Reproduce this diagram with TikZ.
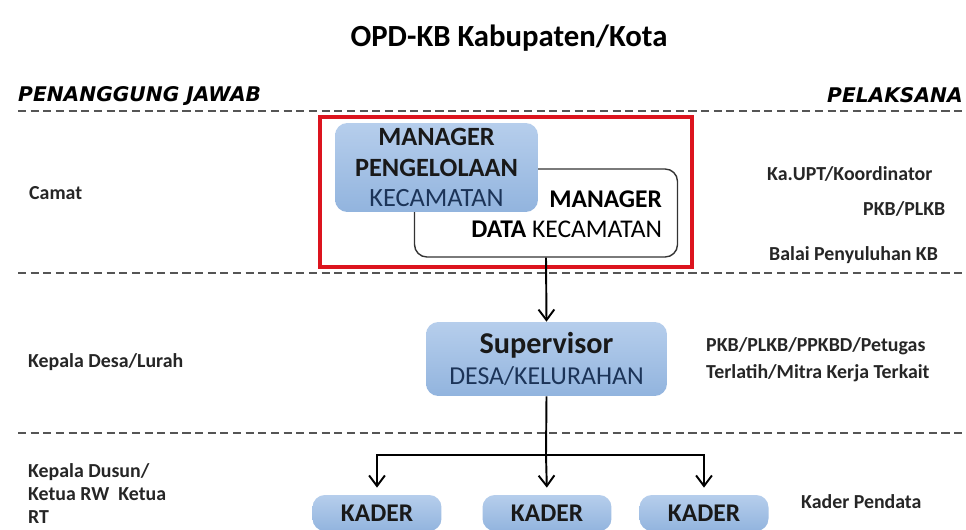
\documentclass[tikz,border=0pt]{standalone}
\usepackage{fontspec}
\setmainfont{Carlito}
\newfontfamily\headfont{DejaVu Sans}
\usepackage{xcolor}
\usetikzlibrary{positioning,arrows.meta}
\definecolor{boxtop}{RGB}{182,206,236}
\definecolor{boxbot}{RGB}{146,180,222}
\definecolor{navytext}{RGB}{28,52,88}
\definecolor{framered}{RGB}{220,20,30}
\definecolor{sepgray}{RGB}{85,85,85}

\begin{document}
\begin{tikzpicture}[x=0.02cm,y=-0.02cm,
  sepline/.style={line width=1.6pt, draw=sepgray, dash pattern=on 4.6pt off 2.6pt},
  bluebox/.style={rounded corners=7pt, top color=boxtop, bottom color=boxbot, draw=none,
                  align=center, inner ysep=0pt, text=black!90},
  whitebox/.style={rounded corners=7pt, draw=black!80, line width=0.8pt, fill=white},
  side/.style={anchor=west, font=\bfseries\fontsize{11.3}{15}\selectfont, text=black!85},
  head/.style={anchor=west, font=\headfont\bfseries\itshape\fontsize{11.5}{14}\selectfont},
  arr/.style={line width=1.1pt, -{Straight Barb[length=6pt,width=9pt]}}
]
\clip (0,0) rectangle (966,530);
\fill[white] (0,0) rectangle (966,530);

% title and column heads
\node[font=\bfseries\fontsize{17.5}{20}\selectfont] (title) at (509,38) {OPD-KB Kabupaten/Kota};
\node[head] (pj) at (12,96) {PENANGGUNG JAWAB};
\node[head] (pl) at (821,95) {PELAKSANA};

% level separators
\draw[sepline] (18,111) -- (966,111);
\draw[sepline] (18,273) -- (966,273);
\draw[sepline] (18,433) -- (966,433);

% kecamatan level
\draw[framered, line width=2.6pt] (320,117) rectangle (692,267);
\node[whitebox, minimum width=5.26cm, minimum height=1.76cm] (mdata) at (546,213) {};
\node[above left=8pt and 5.7pt of mdata.south east, align=right,
      font=\fontsize{14.5}{17}\selectfont] (mdatatext)
  {\textbf{MANAGER}\\ \textbf{DATA} KECAMATAN};
\node[bluebox, minimum width=4.06cm, minimum height=1.78cm,
      font=\fontsize{15}{17.4}\selectfont] (mpk) at (436.5,167.5)
  {\textbf{MANAGER}\\ \textbf{PENGELOLAAN}\\ \textcolor{navytext}{KECAMATAN}};

% desa level
\node[bluebox, minimum width=4.82cm, minimum height=1.48cm,
      font=\fontsize{14.7}{18}\selectfont] (sup) at (546.5,359)
  {{\bfseries\fontsize{17.2}{18}\selectfont Supervisor}\\ \textcolor{navytext}{DESA/KELURAHAN}};

% kader level
\foreach \k/\xx in {k1/377, k2/547, k3/704}
  \node[bluebox, minimum width=2.58cm, minimum height=0.72cm,
        font=\bfseries\fontsize{14.5}{17}\selectfont] (\k) at (\xx,513) {KADER};
\coordinate (hub) at (546,455);

% connectors
\draw[arr] (mdata.south) -- (sup.north);
\draw[line width=1.1pt] (sup.south) -- (hub);
\draw[arr, shorten >=4pt] (hub) -| (k1.north);
\draw[arr, shorten >=4pt] (hub) -- (k2.north);
\draw[arr, shorten >=4pt] (hub) -| (k3.north);

% penanggung jawab
\node[side] (camat) at (23,193) {Camat};
\node[side] (kades) at (22,362) {Kepala Desa/Lurah};
\node[side, align=left, anchor=north west, font=\bfseries\fontsize{11.3}{13.2}\selectfont]
  (kadus) at (22,457) {Kepala Dusun/\\ Ketua RW~~Ketua\\ RT};

% pelaksana
\node[side] (upt) at (761,174) {Ka.UPT/Koordinator};
\node[side] (plkb) at (857,209) {PKB/PLKB};
\node[side] (balai) at (763,255) {Balai Penyuluhan KB};
\node[side, align=left, font=\bfseries\fontsize{11.3}{15.2}\selectfont]
  (petugas) at (700,360) {PKB/PLKB/PPKBD/Petugas\\ Terlatih/Mitra Kerja Terkait};
\node[side] (pendata) at (795,502) {Kader Pendata};
\end{tikzpicture}
\end{document}
